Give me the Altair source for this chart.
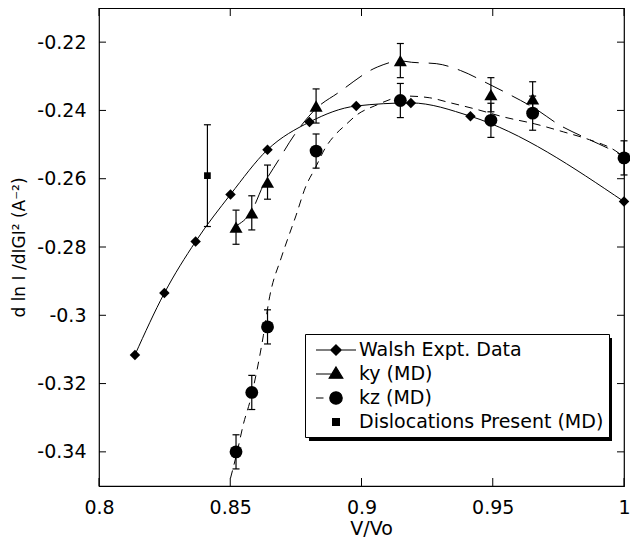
import altair as alt
import pandas as pd

# ---------------- data ----------------
walsh_x = [0.8137, 0.8249, 0.8368, 0.8501, 0.8642, 0.8802, 0.8980, 0.9188, 0.9415, 1.0000]
walsh_y = [-0.3116, -0.2935, -0.2784, -0.2646, -0.2515, -0.2434, -0.2387, -0.2378, -0.2417, -0.2667]

ky_x = [0.8522, 0.8582, 0.8642, 0.8827, 0.9148, 0.9493, 0.9652]
ky_y = [-0.2742, -0.2700, -0.2610, -0.2387, -0.2254, -0.2354, -0.2366]
ky_err = [0.005, 0.005, 0.005, 0.005, 0.005, 0.005, 0.005]

kz_x = [0.8522, 0.8582, 0.8642, 0.8827, 0.9148, 0.9493, 0.9652, 1.0000]
kz_y = [-0.3400, -0.3226, -0.3034, -0.2519, -0.2371, -0.2429, -0.2408, -0.2539]
kz_err = [0.005, 0.005, 0.005, 0.005, 0.005, 0.005, 0.005, 0.005]

disl_x = [0.8413]
disl_y = [-0.2591]
disl_err = [0.0149]

# fitted curves
ky_fit_x = [0.8522, 0.8582, 0.8626, 0.8682, 0.8744, 0.8781, 0.8825, 0.8910, 0.9060, 0.9148,
            0.9191, 0.9285, 0.9377, 0.9478, 0.9565, 0.9660, 0.9757, 0.9844, 0.9937, 1.0000]
ky_fit_y = [-0.2738, -0.2694, -0.2619, -0.2548, -0.2472, -0.2434, -0.2396, -0.2349, -0.2273, -0.2255,
            -0.2259, -0.2263, -0.2283, -0.2320, -0.2354, -0.2394, -0.2444, -0.2477, -0.2510, -0.2534]

kz_fit_x = [0.8501, 0.8526, 0.8551, 0.8576, 0.8601, 0.8626, 0.8650, 0.8694, 0.8719, 0.8750,
            0.8787, 0.8825, 0.8862, 0.8899, 0.8937, 0.8986, 0.9049, 0.9173, 0.9260, 0.9335,
            0.9434, 0.9546, 0.9658, 0.9770, 0.9869, 0.9969, 1.0000]
kz_fit_y = [-0.3477, -0.3401, -0.3316, -0.3250, -0.3164, -0.3060, -0.2946, -0.2832, -0.2776, -0.2709,
            -0.2624, -0.2567, -0.2510, -0.2472, -0.2444, -0.2411, -0.2387, -0.2358, -0.2363, -0.2377,
            -0.2396, -0.2420, -0.2439, -0.2463, -0.2486, -0.2519, -0.2537]

x_ticks = [0.8, 0.85, 0.9, 0.95, 1.0]
y_ticks = [-0.34, -0.32, -0.30, -0.28, -0.26, -0.24, -0.22]

series_names = ["Walsh Expt. Data", "ky (MD)", "kz (MD)", "Dislocations Present (MD)"]
# legend glyphs: a line stub plus the marker (unit = half the symbol box)
legend_paths = [
    "M-2,0L2,0M0,-0.52L0.52,0L0,0.52L-0.52,0Z",
    "M-2,0L-0.2,0M0,-0.7L0.68,0.42L-0.68,0.42Z",
    "M-2,0L-1.25,0M0.62,0A0.62,0.62 0 1,1 -0.62,0A0.62,0.62 0 1,1 0.62,0Z",
    "M-0.34,-0.34L0.34,-0.34L0.34,0.34L-0.34,0.34Z",
]

# ---------------- layout ----------------
W, H = 525, 478
FONT = "DejaVu Sans"
TL = 8  # inner tick length
LX, LY = 206, 326          # legend box position inside the plot
LW, LH = 303, 103          # legend box size (approx.) for its drop shadow
SH = 4                     # shadow offset

xs = alt.Scale(domain=[0.8, 1.0], nice=False, zero=False)
ys = alt.Scale(domain=[-0.35, -0.21], nice=False, zero=False)

lab_expr = "(datum.value < 0 ? '-' : '') + format(abs(datum.value), '~g')"

x_axis = alt.Axis(values=x_ticks, title="V/Vo", labelExpr=lab_expr, ticks=False, domain=False,
                  grid=False, labelFlush=False, labelPadding=12, titlePadding=2,
                  labelFont=FONT, labelFontSize=19, titleFont=FONT, titleFontSize=19,
                  titleFontWeight="normal", labelColor="black", titleColor="black", titleX=272)
y_axis = alt.Axis(values=y_ticks, title="d ln I /dIGI\u00b2 (A\u207b\u00b2)", labelExpr=lab_expr,
                  ticks=False, domain=False, grid=False, labelPadding=13, titlePadding=8,
                  labelFont=FONT, labelFontSize=19, titleFont=FONT, titleFontSize=17,
                  titleFontWeight="normal", labelColor="black", titleColor="black")

walsh = pd.DataFrame({"x": walsh_x, "y": walsh_y})
ky = pd.DataFrame({"x": ky_x, "y": ky_y, "lo": [a - e for a, e in zip(ky_y, ky_err)],
                   "hi": [a + e for a, e in zip(ky_y, ky_err)]})
kz = pd.DataFrame({"x": kz_x, "y": kz_y, "lo": [a - e for a, e in zip(kz_y, kz_err)],
                   "hi": [a + e for a, e in zip(kz_y, kz_err)]})
disl = pd.DataFrame({"x": disl_x, "y": disl_y, "lo": [a - e for a, e in zip(disl_y, disl_err)],
                     "hi": [a + e for a, e in zip(disl_y, disl_err)]})
kyfit = pd.DataFrame({"x": ky_fit_x, "y": ky_fit_y})
kzfit = pd.DataFrame({"x": kz_fit_x, "y": kz_fit_y})
xt = pd.DataFrame({"v": x_ticks})
yt = pd.DataFrame({"v": y_ticks})
leg = pd.DataFrame({"s": series_names, "x": [None] * 4, "y": [None] * 4})
one = pd.DataFrame({"k": [0]})

X = alt.X("x:Q", scale=xs, axis=x_axis)
Y = alt.Y("y:Q", scale=ys, axis=y_axis)
Xp = alt.X("x:Q", scale=xs)
Yp = alt.Y("y:Q", scale=ys)

base_line = alt.Chart(walsh).mark_line(color="black", strokeWidth=1, interpolate="monotone").encode(x=X, y=Y)
walsh_pts = alt.Chart(walsh).mark_point(shape="diamond", filled=True, color="black", size=110,
                                        opacity=1).encode(x=Xp, y=Yp)

ky_line = alt.Chart(kyfit).mark_line(color="black", strokeWidth=1, strokeDash=[20, 10],
                                     interpolate="monotone").encode(x=Xp, y=Yp)
kz_line = alt.Chart(kzfit).mark_line(color="black", strokeWidth=1, strokeDash=[8, 6],
                                     interpolate="monotone").encode(x=Xp, y=Yp)


def err_layers(df):
    bar = alt.Chart(df).mark_rule(color="black", strokeWidth=1.2).encode(
        x=Xp, y=alt.Y("lo:Q", scale=ys), y2="hi:Q")
    cap1 = alt.Chart(df).mark_tick(orient="horizontal", size=7, thickness=1.2, color="black",
                                   opacity=1).encode(x=Xp, y=alt.Y("lo:Q", scale=ys))
    cap2 = alt.Chart(df).mark_tick(orient="horizontal", size=7, thickness=1.2, color="black",
                                   opacity=1).encode(x=Xp, y=alt.Y("hi:Q", scale=ys))
    return [bar, cap1, cap2]


ky_pts = alt.Chart(ky).mark_point(shape="triangle-up", filled=True, color="black", size=170,
                                  opacity=1).encode(x=Xp, y=Yp)
kz_pts = alt.Chart(kz).mark_point(shape="circle", filled=True, color="black", size=165,
                                  opacity=1).encode(x=Xp, y=Yp)
disl_pts = alt.Chart(disl).mark_point(shape="square", filled=True, color="black", size=45,
                                      opacity=1).encode(x=Xp, y=Yp)

# inward ticks on all four sides
t_bottom = alt.Chart(xt).mark_rule(color="black", strokeWidth=1).encode(
    x=alt.X("v:Q", scale=xs), y=alt.value(H - TL), y2=alt.value(H))
t_top = alt.Chart(xt).mark_rule(color="black", strokeWidth=1).encode(
    x=alt.X("v:Q", scale=xs), y=alt.value(0), y2=alt.value(TL))
t_left = alt.Chart(yt).mark_rule(color="black", strokeWidth=1).encode(
    y=alt.Y("v:Q", scale=ys), x=alt.value(0), x2=alt.value(TL - 1))
t_right = alt.Chart(yt).mark_rule(color="black", strokeWidth=1).encode(
    y=alt.Y("v:Q", scale=ys), x=alt.value(W - TL + 1), x2=alt.value(W))

# drop shadow behind the legend box
shadow = alt.Chart(one).mark_rect(color="black", opacity=1).encode(
    x=alt.value(LX + SH), x2=alt.value(LX + LW + SH),
    y=alt.value(LY + SH), y2=alt.value(LY + LH + SH))

legend_layer = alt.Chart(leg).mark_point(filled=False, fill="black", stroke="black", strokeWidth=1.2,
                                         fillOpacity=1, strokeOpacity=1, opacity=1).encode(
    x=Xp, y=Yp,
    shape=alt.Shape("s:N", scale=alt.Scale(domain=series_names, range=legend_paths),
                    legend=alt.Legend(title=None, orient="none", legendX=LX, legendY=LY,
                                      strokeColor="black", fillColor="white", padding=5,
                                      labelFont=FONT, labelFontSize=19, labelColor="black",
                                      labelOffset=12, rowPadding=3, symbolSize=400,
                                      symbolOffset=15, symbolStrokeWidth=1.2, symbolOpacity=1,
                                      labelLimit=400)))

layers = [base_line, ky_line, kz_line] + err_layers(ky) + err_layers(kz) + err_layers(disl) + \
         [walsh_pts, ky_pts, kz_pts, disl_pts, t_bottom, t_top, t_left, t_right, shadow, legend_layer]

chart = alt.layer(*layers).properties(
    width=W, height=H,
    autosize=alt.AutoSizeParams(type="none"),
    padding={"left": 91, "top": 0, "right": 6, "bottom": 54},
    background="white",
).configure_view(stroke="black", strokeWidth=1.2)

chart.save("out.html", embed_options={"renderer": "svg", "actions": False})
